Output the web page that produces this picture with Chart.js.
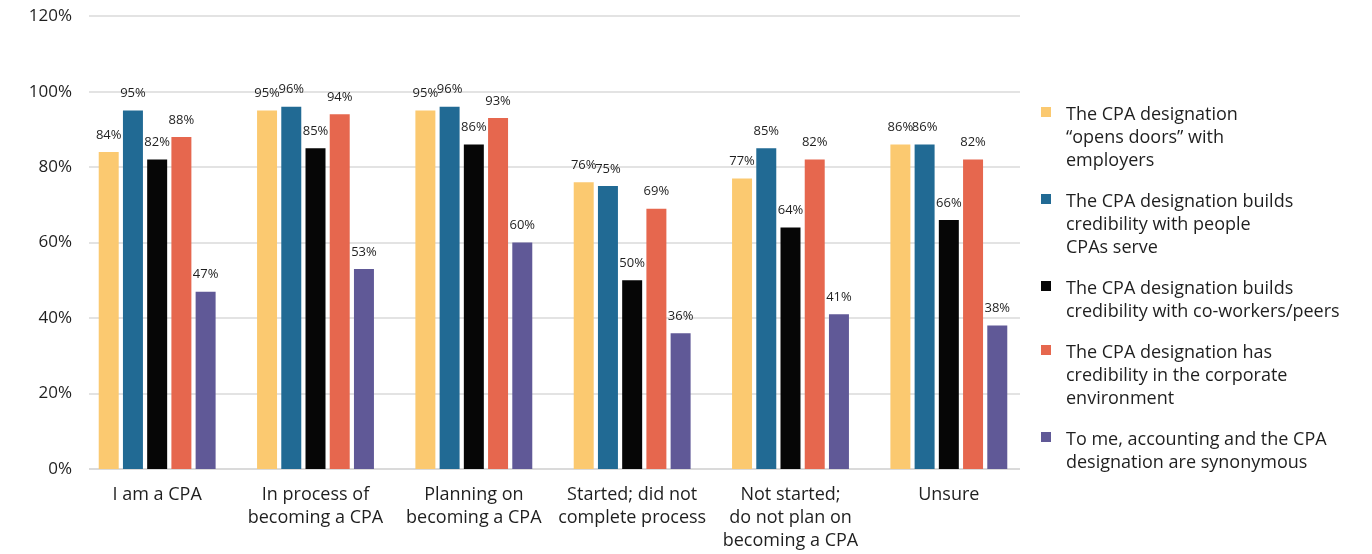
<!DOCTYPE html>
<html>
<head>
<meta charset="utf-8">
<script src="https://cdn.jsdelivr.net/npm/chart.js@4.4.1/dist/chart.umd.min.js"></script>
<style>
  html, body { margin: 0; padding: 0; background: #ffffff; }
  #wrap { position: relative; width: 1372px; height: 554px; }
</style>
</head>
<body>
<div id="wrap"><canvas id="c" width="1372" height="554"></canvas></div>
<script>
const categories = [
  ["I am a CPA"],
  ["In process of", "becoming a CPA"],
  ["Planning on", "becoming a CPA"],
  ["Started; did not", "complete process"],
  ["Not started;", "do not plan on", "becoming a CPA"],
  ["Unsure"]
];
const seriesNames = [
  ["The CPA designation", "\u201copens doors\u201d with", "employers"],
  ["The CPA designation builds", "credibility with people", "CPAs serve"],
  ["The CPA designation builds", "credibility with co-workers/peers"],
  ["The CPA designation has", "credibility in the corporate", "environment"],
  ["To me, accounting and the CPA", "designation are synonymous"]
];
const opensDoors      = [84, 95, 95, 76, 77, 86];
const credPeopleServe = [95, 96, 96, 75, 85, 86];
const credCoworkers   = [82, 85, 86, 50, 64, 66];
const credCorporate   = [88, 94, 93, 69, 82, 82];
const synonymous      = [47, 53, 60, 36, 41, 38];
const yTicks = [0, 20, 40, 60, 80, 100, 120];

const colors = ["#FBC970", "#216A94", "#060606", "#E6674E", "#605997"];
const seriesValues = [opensDoors, credPeopleServe, credCoworkers, credCorporate, synonymous];

const FONT = "'Open Sans', sans-serif";
const TEXT = "#1f1f1f";
const GRID_LEFT = 89, GRID_RIGHT = 1020;

const gridLines = {
  id: 'gridLines',
  beforeDatasetsDraw(chart) {
    const ctx = chart.ctx, ys = chart.scales.y;
    ctx.save();
    ys.ticks.forEach(t => {
      const y = Math.round(ys.getPixelForValue(t.value));
      ctx.strokeStyle = "#dadada";
      ctx.lineWidth = t.value === 0 ? 2 : 1.5;
      ctx.beginPath();
      ctx.moveTo(GRID_LEFT, y);
      ctx.lineTo(GRID_RIGHT, y);
      ctx.stroke();
    });
    ctx.restore();
  }
};

const dataLabels = {
  id: 'dataLabels',
  afterDatasetsDraw(chart) {
    const ctx = chart.ctx;
    ctx.save();
    ctx.font = "13px " + FONT;
    ctx.fillStyle = TEXT;
    ctx.textAlign = "center";
    ctx.textBaseline = "middle";
    chart.data.datasets.forEach((ds, i) => {
      const meta = chart.getDatasetMeta(i);
      meta.data.forEach((bar, j) => {
        ctx.fillText(ds.data[j] + "%", bar.x, bar.y - 17);
      });
    });
    ctx.restore();
  }
};

const sideLegend = {
  id: 'sideLegend',
  afterDraw(chart) {
    const ctx = chart.ctx;
    ctx.save();
    ctx.font = "18px " + FONT;
    ctx.textBaseline = "middle";
    ctx.textAlign = "left";
    let y = 115;
    const lineH = 23, gap = 18;
    seriesNames.forEach((lines, i) => {
      ctx.fillStyle = colors[i];
      ctx.fillRect(1041, y - 8, 10, 10);
      ctx.fillStyle = TEXT;
      lines.forEach((t, k) => ctx.fillText(t, 1066, y + k * lineH));
      y += lines.length * lineH + gap;
    });
    ctx.restore();
  }
};

new Chart(document.getElementById('c'), {
  type: 'bar',
  data: {
    labels: categories,
    datasets: seriesValues.map((vals, i) => ({
      label: seriesNames[i].join(' '),
      data: vals,
      backgroundColor: colors[i],
      borderWidth: 0,
      categoryPercentage: 0.765,
      barPercentage: 0.825
    }))
  },
  options: {
    responsive: false,
    animation: false,
    devicePixelRatio: 1,
    layout: { padding: { top: 7, right: 344, left: 0, bottom: 0 } },
    plugins: { legend: { display: false }, tooltip: { enabled: false } },
    scales: {
      x: {
        grid: { display: false, drawTicks: false },
        border: { display: false },
        ticks: { color: TEXT, font: { family: FONT, size: 18, lineHeight: 1.278 }, padding: 14, maxRotation: 0, autoSkip: false },
        afterFit(scale) { scale.height = 85; }
      },
      y: {
        min: 0, max: 120,
        afterBuildTicks(scale) { scale.ticks = yTicks.map(v => ({ value: v })); },
        grid: { display: false, drawTicks: false },
        border: { display: false },
        ticks: { color: TEXT, font: { family: FONT, size: 17 }, padding: 6, callback: v => v + "%" },
        afterFit(scale) { scale.width = 78; }
      }
    }
  },
  plugins: [gridLines, dataLabels, sideLegend]
});
</script>
</body>
</html>
